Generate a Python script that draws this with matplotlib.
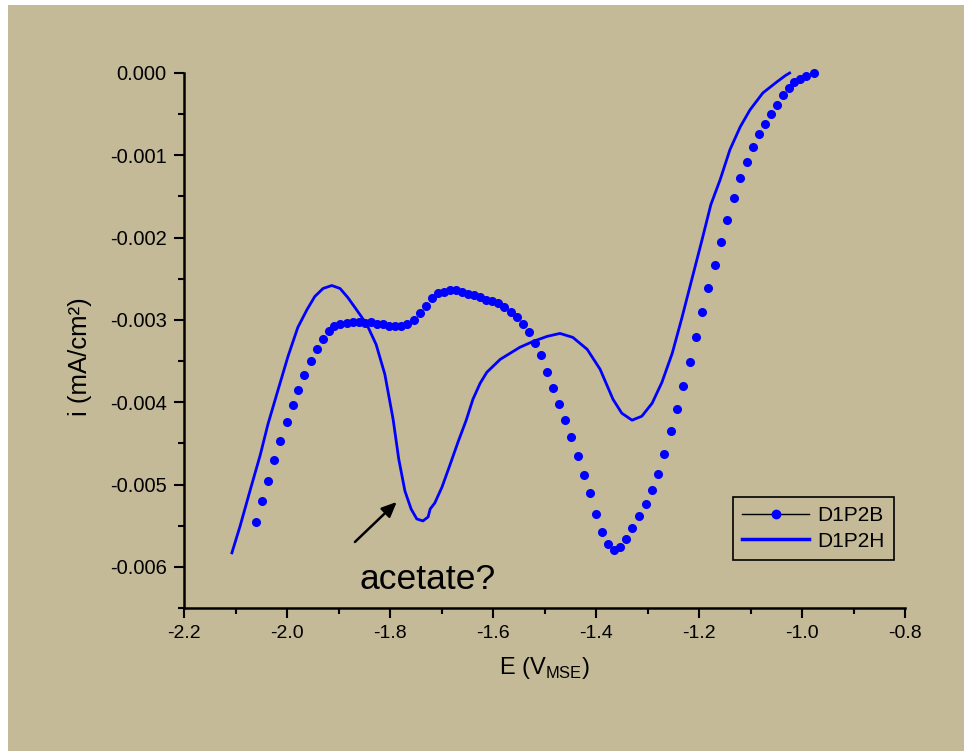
"""Cyclic voltammetry sweep of D1P2B vs D1P2H, with the acetate shoulder marked."""

import matplotlib.pyplot as plt
from matplotlib.lines import Line2D
from matplotlib.patches import Rectangle

BG = "#c4ba98"

# D1P2B (dotted series): potential in V_MSE, current density in mA/cm2
e_b = [-2.060, -2.049, -2.037, -2.025, -2.014, -2.000, -1.988, -1.979, -1.967, -1.953,
       -1.942, -1.930, -1.918, -1.909, -1.897, -1.883, -1.872, -1.860, -1.849, -1.837,
       -1.825, -1.814, -1.802, -1.790, -1.779, -1.767, -1.753, -1.742, -1.730, -1.718,
       -1.707, -1.695, -1.683, -1.672, -1.660, -1.649, -1.637, -1.625, -1.614, -1.602,
       -1.590, -1.579, -1.565, -1.553, -1.542, -1.530, -1.518, -1.507, -1.495, -1.483,
       -1.472, -1.460, -1.449, -1.435, -1.423, -1.412, -1.400, -1.388, -1.377, -1.365,
       -1.353, -1.342, -1.330, -1.317, -1.303, -1.291, -1.280, -1.268, -1.254, -1.243,
       -1.231, -1.217, -1.206, -1.194, -1.183, -1.169, -1.157, -1.146, -1.132, -1.120,
       -1.107, -1.095, -1.083, -1.072, -1.060, -1.049, -1.037, -1.025, -1.016, -1.004,
       -0.992, -0.977]
i_b = [-0.005455, -0.005200, -0.004958, -0.004703, -0.004473, -0.004242, -0.004036,
       -0.003855, -0.003673, -0.003503, -0.003358, -0.003236, -0.003139, -0.003079,
       -0.003055, -0.003042, -0.003030, -0.003030, -0.003042, -0.003030, -0.003055,
       -0.003055, -0.003079, -0.003079, -0.003079, -0.003055, -0.003006, -0.002921,
       -0.002836, -0.002739, -0.002667, -0.002655, -0.002642, -0.002642, -0.002655,
       -0.002679, -0.002703, -0.002727, -0.002752, -0.002776, -0.002800, -0.002848,
       -0.002909, -0.002970, -0.003055, -0.003152, -0.003285, -0.003430, -0.003636,
       -0.003830, -0.004024, -0.004218, -0.004424, -0.004655, -0.004885, -0.005103,
       -0.005358, -0.005576, -0.005721, -0.005794, -0.005758, -0.005661, -0.005527,
       -0.005382, -0.005236, -0.005067, -0.004873, -0.004630, -0.004352, -0.004085,
       -0.003806, -0.003515, -0.003212, -0.002909, -0.002618, -0.002327, -0.002048,
       -0.001782, -0.001515, -0.001273, -0.001079, -0.000897, -0.000739, -0.000618,
       -0.000497, -0.000388, -0.000267, -0.000182, -0.000109, -0.000073, -0.000036,
       0.000000]

# D1P2H (solid series)
e_h = [-2.107, -2.091, -2.072, -2.052, -2.037, -2.017, -1.998, -1.979, -1.961, -1.946,
       -1.930, -1.913, -1.897, -1.882, -1.864, -1.845, -1.827, -1.810, -1.794, -1.783,
       -1.771, -1.759, -1.748, -1.736, -1.726, -1.722, -1.713, -1.699, -1.683, -1.668,
       -1.652, -1.639, -1.625, -1.612, -1.586, -1.567, -1.548, -1.522, -1.495, -1.470,
       -1.445, -1.417, -1.392, -1.367, -1.350, -1.330, -1.311, -1.291, -1.272, -1.252,
       -1.233, -1.214, -1.194, -1.177, -1.159, -1.140, -1.120, -1.101, -1.076, -1.049,
       -1.032, -1.024]
i_h = [-0.005830, -0.005503, -0.005079, -0.004642, -0.004267, -0.003842, -0.003442,
       -0.003091, -0.002873, -0.002715, -0.002618, -0.002582, -0.002618, -0.002727,
       -0.002885, -0.003055, -0.003297, -0.003661, -0.004206, -0.004691, -0.005079,
       -0.005297, -0.005418, -0.005442, -0.005394, -0.005297, -0.005224, -0.005030,
       -0.004752, -0.004485, -0.004218, -0.003964, -0.003770, -0.003636, -0.003479,
       -0.003406, -0.003333, -0.003261, -0.003200, -0.003164, -0.003212, -0.003358,
       -0.003600, -0.003964, -0.004133, -0.004218, -0.004170, -0.004012, -0.003758,
       -0.003406, -0.002970, -0.002509, -0.002024, -0.001600, -0.001297, -0.000933,
       -0.000655, -0.000448, -0.000242, -0.000109, -0.000030, 0.000000]

x_ticks = [-2.2, -2.0, -1.8, -1.6, -1.4, -1.2, -1.0, -0.8]
y_ticks = [0.000, -0.001, -0.002, -0.003, -0.004, -0.005, -0.006]

plt.rcParams["font.family"] = ["Liberation Sans", "DejaVu Sans"]

fig = plt.figure(figsize=(9.64, 7.51), dpi=100, facecolor="white")
# beige panel, leaving a thin white strip at top and left
fig.patches.append(Rectangle((8 / 964, 0), 1, 1 - 5 / 751, transform=fig.transFigure,
                             facecolor=BG, edgecolor="none", zorder=-10))
ax = fig.add_axes([184 / 964, 1 - 608 / 751, (905 - 184) / 964, (608 - 73) / 751])
ax.set_facecolor(BG)

ax.plot(e_b, i_b, linestyle="none", marker="o", markersize=5.5, color="#0000ff",
        clip_on=False)
ax.plot(e_h, i_h, color="#0000ff", linewidth=2.0, clip_on=False)

ax.set_xlim(-2.2, -0.8)
ax.set_ylim(-0.0065, 0.0)
ax.set_xticks(x_ticks)
ax.set_xticklabels([f"{v:.1f}" for v in x_ticks])
ax.set_yticks(y_ticks)
ax.set_yticklabels([f"{v:.3f}" for v in y_ticks])
ax.set_xticks([v - 0.1 for v in x_ticks[1:]], minor=True)
ax.set_yticks([v - 0.0005 for v in y_ticks], minor=True)
ax.tick_params(which="major", direction="out", length=7.5, width=1.5, pad=5)
ax.tick_params(which="minor", direction="out", length=4, width=1.5)
ax.tick_params(axis="x", which="major", labelsize=14)
ax.tick_params(axis="y", which="major", labelsize=14.5)

for side in ("top", "right"):
    ax.spines[side].set_visible(False)
for side in ("left", "bottom"):
    ax.spines[side].set_linewidth(1.8)

ax.set_xlabel(r"E (V$_{\mathregular{MSE}}$)", fontsize=17, labelpad=9)
ax.set_ylabel("i (mA/cm²)", fontsize=18.5)
ax.yaxis.set_label_coords(-0.127, 0.47)

ax.annotate("", xy=(-1.783, -0.005188), xytext=(-1.872, -0.005721),
            arrowprops=dict(arrowstyle="-|>,head_length=0.9,head_width=0.4",
                            color="black", lw=1.8))
ax.text(-1.726, -0.00615, "acetate?", fontsize=25.5, ha="center", va="center")

handles = [
    Line2D([], [], color="black", lw=1.0, marker="o", markersize=6,
           markerfacecolor="#0000ff", markeredgecolor="#0000ff"),
    Line2D([], [], color="#0000ff", lw=2.5),
]
leg = ax.legend(handles, ["D1P2B", "D1P2H"], loc="lower right",
                bbox_to_anchor=(894 / 964, 1 - 560 / 751), bbox_transform=fig.transFigure,
                fontsize=15, frameon=True, fancybox=False, borderpad=0.45,
                handlelength=3.2, labelspacing=0.3, handletextpad=0.4, borderaxespad=0)
leg.get_frame().set_facecolor(BG)
leg.get_frame().set_edgecolor("black")
leg.get_frame().set_linewidth(1.2)
leg.get_frame().set_alpha(1.0)

fig.savefig("out.png", dpi=100, facecolor=fig.get_facecolor())
